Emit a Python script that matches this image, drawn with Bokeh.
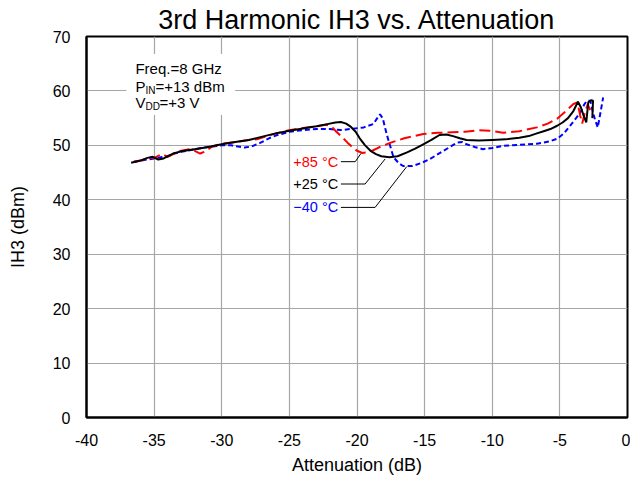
from bokeh.plotting import figure
from bokeh.models import FixedTicker, Range1d
from bokeh.core.properties import value
from bokeh.embed import file_html
from bokeh.resources import INLINE

# ---- data ----
x_25 = [-36.7, -36.0, -35.5, -35.1, -34.7, -34.3, -33.6, -33.0, -32.0, -31.0, -30.0, -29.0, -28.0, -27.0,
        -26.0, -25.0, -24.0, -23.0, -22.2, -21.6, -21.2, -20.8, -20.5, -20.1, -19.8, -19.4, -19.0, -18.6,
        -18.2, -17.6, -17.0, -16.3, -15.7, -15.1, -14.5, -13.9, -13.4, -12.9, -12.4, -11.9, -11.0, -10.0,
        -9.0, -8.0, -7.3, -6.7, -6.2, -5.7, -5.2, -4.8, -4.4, -4.0, -3.66, -3.45, -3.25, -3.05, -2.9,
        -2.7, -2.55, -2.6]
y_25 = [46.8, 47.2, 47.7, 47.9, 47.4, 47.6, 48.5, 48.9, 49.3, 49.7, 50.2, 50.6, 51.0, 51.6,
        52.2, 52.7, 53.1, 53.5, 53.9, 54.2, 54.3, 54.0, 53.5, 52.5, 51.3, 50.0, 49.0, 48.4,
        48.0, 47.8, 48.0, 48.7, 49.4, 50.2, 51.0, 51.9, 52.0, 51.7, 51.3, 51.0, 50.9, 51.0,
        51.1, 51.4, 51.7, 52.2, 52.6, 53.0, 53.6, 54.2, 55.0, 56.3, 58.0, 57.0, 55.5, 54.2, 57.9,
        58.3, 58.2, 55.0]

x_85 = [-36.5, -36.0, -35.5, -35.0, -34.4, -34.0, -33.5, -33.0, -32.4, -32.0, -31.6, -31.2, -30.7, -30.0,
        -29.0, -28.0, -27.4, -26.0, -25.0, -24.0, -23.0, -22.3, -21.9, -21.6, -21.1, -20.7, -20.3, -20.0,
        -19.6, -19.3, -18.8, -18.4, -17.5, -16.5, -15.1, -14.0, -13.0, -12.0, -11.0, -10.2, -9.2, -8.0,
        -6.7, -5.9, -5.2, -4.6, -4.0, -3.7, -3.5, -3.35, -3.15, -2.95, -2.75]
y_85 = [47.0, 47.2, 47.6, 47.7, 48.4, 47.9, 48.5, 49.0, 49.3, 49.0, 48.5, 48.9, 49.8, 50.3,
        50.6, 51.0, 51.1, 52.2, 52.8, 53.2, 53.5, 53.8, 53.5, 52.7, 51.5, 50.5, 49.6, 49.0,
        48.6, 48.7, 49.1, 49.6, 50.5, 51.3, 52.1, 52.3, 52.4, 52.5, 52.8, 52.7, 52.3, 52.6,
        53.3, 54.0, 54.9, 56.2, 57.6, 57.9, 55.5, 54.0, 56.0, 57.5, 56.5]

x_m40 = [-36.5, -36.0, -35.5, -35.0, -34.5, -34.0, -33.5, -33.0, -32.0, -31.0, -30.0, -29.3, -28.8, -28.3,
         -27.8, -27.2, -26.5, -26.0, -25.0, -24.0, -23.0, -22.0, -21.2, -20.5, -19.5, -18.8, -18.5, -18.3,
         -18.1, -17.8, -17.5, -17.3, -16.9, -16.6, -15.9, -15.2, -14.6, -13.6, -12.6, -12.2, -11.9, -11.3,
         -10.7, -10.0, -9.2, -8.0, -6.7, -5.8, -5.2, -4.7, -4.25, -3.8, -3.5, -3.2, -3.0, -2.75, -2.5,
         -2.2, -2.0, -1.8]
y_m40 = [47.0, 47.2, 47.4, 47.6, 47.8, 48.0, 48.5, 48.8, 49.3, 49.7, 50.0, 50.0, 49.8, 49.6,
         49.8, 50.4, 51.3, 51.8, 52.5, 52.8, 53.0, 53.0, 52.8, 53.0, 53.3, 53.9, 55.0, 55.7,
         55.0, 52.0, 49.5, 47.8, 46.7, 46.2, 46.2, 46.8, 47.5, 49.0, 50.5, 50.6, 50.2, 49.7,
         49.3, 49.5, 49.9, 50.1, 50.3, 50.7, 51.2, 52.2, 53.6, 55.0, 56.0, 57.5, 58.2, 58.2, 55.5,
         53.3, 56.0, 58.8]

x_ticks = [-40, -35, -30, -25, -20, -15, -10, -5, 0]
x_tick_labels = ["-40", "-35", "-30", "-25", "-20", "-15", "-10", "-5", "0"]
y_ticks = [0, 10, 20, 30, 40, 50, 60, 70]
y_tick_labels = ["0", "10", "20", "30", "40", "50", "60", "70"]

series_labels = ["+85 °C", "+25 °C", "\u221240 °C"]

FONT = "Liberation Sans"

p = figure(width=630, height=477, output_backend="svg", toolbar_location=None,
           x_range=Range1d(-40, 0), y_range=Range1d(0, 70),
           min_border_left=86, min_border_right=3, min_border_top=35, min_border_bottom=53,
           title="3rd Harmonic IH3 vs. Attenuation")
p.title.align = "center"
p.title.text_font = FONT
p.title.text_font_size = "27px"
p.title.text_font_style = "normal"
p.title.text_color = "black"
p.title.standoff = 4

p.outline_line_color = "black"
p.outline_line_width = 2
p.background_fill_color = "white"
p.border_fill_color = "white"

p.xaxis.ticker = FixedTicker(ticks=x_ticks)
p.yaxis.ticker = FixedTicker(ticks=y_ticks)
p.xaxis.major_label_overrides = dict(zip(x_ticks, x_tick_labels))
p.yaxis.major_label_overrides = dict(zip(y_ticks, y_tick_labels))
for ax in (p.xaxis, p.yaxis):
    ax.axis_line_color = "black"
    ax.axis_line_width = 2
    ax.major_tick_out = 0
    ax.major_tick_in = 0
    ax.minor_tick_out = 0
    ax.minor_tick_in = 0
    ax.major_label_text_font = FONT
    ax.major_label_text_font_size = "16px"
    ax.major_label_text_color = "black"
    ax.axis_label_text_font = FONT
    ax.axis_label_text_font_size = "18px"
    ax.axis_label_text_font_style = "normal"
    ax.axis_label_text_color = "black"
p.xaxis.axis_label = "Attenuation (dB)"
p.yaxis.axis_label = "IH3 (dBm)"
p.xaxis.major_label_standoff = 16
p.yaxis.major_label_standoff = 16
p.xaxis.axis_label_standoff = 6
p.yaxis.axis_label_standoff = 22

p.xgrid.ticker = FixedTicker(ticks=x_ticks)
p.ygrid.ticker = FixedTicker(ticks=y_ticks)
p.grid.grid_line_color = "#a6a6a6"
p.grid.grid_line_width = 1.2

# white box behind the conditions text
p.quad(left=[-37.05], right=[-29.0], bottom=[55.6], top=[66.8],
       fill_color="white", line_color=None)

# curves
p.line(x_m40, y_m40, line_color="#0000ff", line_width=2, line_dash="5 3")
p.line(x_85, y_85, line_color="#ff0000", line_width=2, line_dash="11 5")
p.line(x_25, y_25, line_color="black", line_width=2)

# series labels with leader lines
lab_x = -21.39
lab_y = [47.0, 42.9, 38.6]
lab_col = ["#ff0000", "black", "#0000ff"]
p.text(x=[lab_x] * 3, y=lab_y, text=series_labels, text_color=lab_col,
       text_align="right", text_baseline="middle",
       text_font=value(FONT), text_font_size="14.5px")
leaders = [
    ([-21.19, -20.13, -19.71], [47.0, 47.0, 48.5]),
    ([-21.19, -19.4, -17.92], [42.9, 42.9, 47.5]),
    ([-21.19, -18.66, -16.32], [38.6, 38.6, 46.1]),
]
for lx, ly in leaders:
    p.line(lx, ly, line_color="black", line_width=1)

# conditions text
tx = -36.38
p.text(x=[tx], y=[64.2], text=["Freq.=8 GHz"], text_baseline="middle",
       text_font=value(FONT), text_font_size="15px", text_color="black")
p.text(x=[tx], y=[60.9], text=["P"], text_baseline="middle",
       text_font=value(FONT), text_font_size="15px", text_color="black")
p.text(x=[tx], y=[60.9], text=["IN"], text_baseline="middle", x_offset=10, y_offset=4,
       text_font=value(FONT), text_font_size="10px", text_color="black")
p.text(x=[tx], y=[60.9], text=["=+13 dBm"], text_baseline="middle", x_offset=20,
       text_font=value(FONT), text_font_size="15px", text_color="black")
p.text(x=[tx], y=[57.8], text=["V"], text_baseline="middle",
       text_font=value(FONT), text_font_size="15px", text_color="black")
p.text(x=[tx], y=[57.8], text=["DD"], text_baseline="middle", x_offset=10, y_offset=4,
       text_font=value(FONT), text_font_size="10px", text_color="black")
p.text(x=[tx], y=[57.8], text=["=+3 V"], text_baseline="middle", x_offset=24,
       text_font=value(FONT), text_font_size="15px", text_color="black")

open("out.html", "w").write(file_html(p, INLINE))
